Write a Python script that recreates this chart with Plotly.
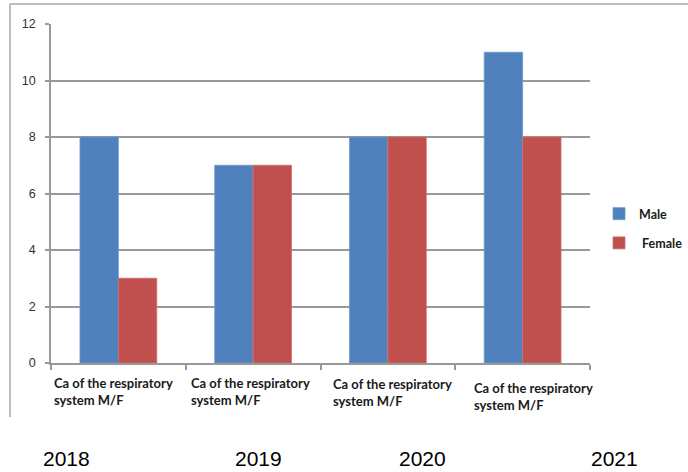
import plotly.graph_objects as go

# Data
years = ["2018", "2019", "2020", "2021"]
male = [8, 7, 8, 11]
female = [3, 7, 8, 8]
category_label = "Ca of the respiratory<br>system M/F"

# Plot area in pixels (inside a 688x472 page)
W, H = 688, 472
L, R, T, B = 51, 590, 24, 363
pw, ph = R - L, B - T


def px(x):
    return (x - L) / pw


def py(y):
    return (B - y) / ph


fig = go.Figure()
fig.add_trace(go.Bar(x=years, y=male, name="Male", marker_color="#4F81BD",
                     marker_line=dict(color="#6E98CC", width=0.8), legendgroup="m"))
fig.add_trace(go.Bar(x=years, y=female, name="\u00a0Female", marker_color="#C0504D",
                     marker_line=dict(color="#CF6E6B", width=0.8), legendgroup="f"))

label_font = dict(family="Lato, Open Sans, sans-serif", size=13, color="#1a1a1a", weight="bold")

# Category labels under each group (left-aligned, slightly staggered)
label_pos = [(52, 391), (189, 391), (331, 392), (472, 396)]
annotations = []
for (lx, ly) in label_pos:
    annotations.append(dict(
        x=px(lx), y=py(ly), xref="paper", yref="paper", xanchor="left", yanchor="middle",
        text=category_label, showarrow=False, align="left", font=label_font,
    ))

# Year captions along the bottom
year_pos = [66, 258, 422, 614]
for yr, yx in zip(years, year_pos):
    annotations.append(dict(
        x=px(yx), y=py(458), xref="paper", yref="paper", xanchor="center", yanchor="middle",
        text=yr, showarrow=False,
        font=dict(family="Liberation Sans, Arial, sans-serif", size=21, color="#000000"),
    ))

# Outer chart frame (left and top edges)
frame = dict(color="#A6A6A6", width=1.5)
shapes = [
    dict(type="line", xref="paper", yref="paper", x0=px(10), x1=px(10), y0=py(4), y1=py(417), line=frame),
    dict(type="line", xref="paper", yref="paper", x0=px(10), x1=px(688), y0=py(4), y1=py(4), line=frame),
]

fig.update_layout(
    width=W, height=H,
    margin=dict(l=L, r=W - R, t=T, b=H - B, pad=0, autoexpand=False),
    paper_bgcolor="white", plot_bgcolor="white",
    barmode="group", bargap=0.43, bargroupgap=0,
    showlegend=True,
    legend=dict(x=px(599), y=py(199), xanchor="left", yanchor="top",
                tracegroupgap=10, itemwidth=30,
                font=dict(family="Lato, Open Sans, sans-serif", size=12.5, color="#1a1a1a",
                          weight="bold"),
                bgcolor="rgba(0,0,0,0)"),
    annotations=annotations,
    shapes=shapes,
    font=dict(family="Liberation Sans, Arial, sans-serif"),
)

fig.update_yaxes(
    range=[0, 12], dtick=2, tick0=0,
    showgrid=True, gridcolor="#999999", gridwidth=1.5,
    showline=True, linecolor="#999999", linewidth=1.5,
    ticks="outside", ticklen=4, tickcolor="#999999", tickwidth=1.5,
    zeroline=False,
    tickfont=dict(family="Liberation Sans, Arial, sans-serif", size=12.5, color="#333333"),
    ticklabelstandoff=7,
)
fig.update_xaxes(
    type="category",
    showticklabels=False,
    showline=True, linecolor="#999999", linewidth=1.5,
    ticks="outside", tickson="boundaries", ticklen=5, tickcolor="#999999", tickwidth=1.5,
    showgrid=False,
)

fig.write_html("out.html")
